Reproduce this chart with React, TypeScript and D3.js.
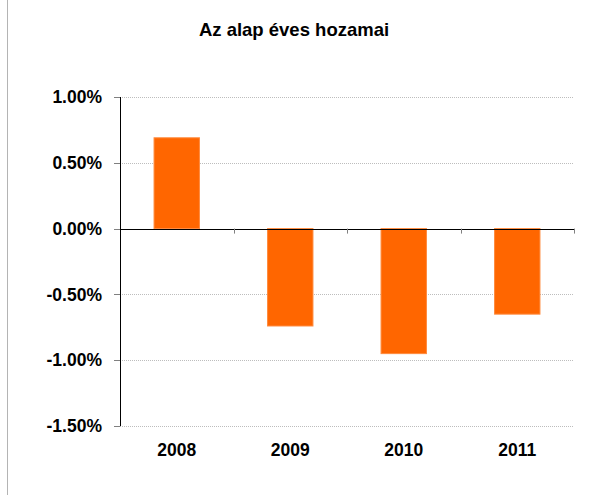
import React from "react";
import * as d3 from "d3";

const categories = ["2008", "2009", "2010", "2011"];
const returns = [0.0069, -0.0074, -0.0095, -0.0065];
const yTicks = [0.01, 0.005, 0, -0.005, -0.01, -0.015];
const title = "Az alap éves hozamai";

const width = 601;
const height = 495;
const margin = { top: 97, right: 27, bottom: 69, left: 120 };
const font = "'Liberation Sans', Arial, sans-serif";

// plain hyphen for negatives, like the original
const fmt = d3
  .formatLocale({ decimal: ".", thousands: ",", grouping: [3], currency: ["", ""], minus: "-" })
  .format(".2%");

const App = () => {
  const x = d3
    .scaleBand()
    .domain(categories)
    .range([margin.left, width - margin.right])
    .paddingInner(0.6)
    .paddingOuter(0.3);
  const y = d3
    .scaleLinear()
    .domain([-0.015, 0.01])
    .range([height - margin.bottom, margin.top]);
  const step = x.step();
  const bounds = d3.range(categories.length + 1).map(i => margin.left + i * step);

  return (
    <div style={{ position: "fixed", left: 0, top: 0 }}>
      <svg width={width} height={height} style={{ display: "block", background: "#fff" }}>
        <line x1={7.5} x2={7.5} y1={0} y2={height} stroke="#b4b4b4" strokeWidth={1} />
        <text
          x={294}
          y={36}
          textAnchor="middle"
          fontFamily={font}
          fontWeight="bold"
          fontSize={18.5}
        >
          {title}
        </text>

        {yTicks.map(t => (
          <g key={t}>
            {t !== 0 && (
              <line
                x1={margin.left}
                x2={width - margin.right}
                y1={Math.round(y(t)) + 0.5}
                y2={Math.round(y(t)) + 0.5}
                stroke="#bdbdbd"
                strokeDasharray="1,1"
              />
            )}
            <line
              x1={margin.left - 6}
              x2={margin.left}
              y1={Math.round(y(t)) + 0.5}
              y2={Math.round(y(t)) + 0.5}
              stroke="#808080"
            />
            <text
              x={102}
              y={y(t)}
              dy="0.35em"
              textAnchor="end"
              fontFamily={font}
              fontWeight="bold"
              fontSize={17.5}
            >
              {fmt(t)}
            </text>
          </g>
        ))}

        {categories.map((c, i) => {
          const v = returns[i];
          const y0 = y(0);
          const y1 = y(v);
          return (
            <rect
              key={c}
              x={x(c)}
              y={Math.min(y0, y1)}
              width={x.bandwidth()}
              height={Math.abs(y1 - y0)}
              fill="#ff6600"
              stroke="#ff8a3d"
              strokeWidth={1}
            />
          );
        })}

        <line
          x1={margin.left + 0.5}
          x2={margin.left + 0.5}
          y1={margin.top}
          y2={height - margin.bottom}
          stroke="#000"
        />
        <line
          x1={margin.left}
          x2={width - margin.right}
          y1={Math.round(y(0)) + 0.5}
          y2={Math.round(y(0)) + 0.5}
          stroke="#000"
        />
        {bounds.slice(1).map(b => (
          <line
            key={b}
            x1={Math.round(b) + 0.5}
            x2={Math.round(b) + 0.5}
            y1={y(0)}
            y2={y(0) + 5}
            stroke="#808080"
          />
        ))}

        {categories.map(c => (
          <text
            key={c}
            x={(x(c) ?? 0) + x.bandwidth() / 2}
            y={450}
            dy="0.35em"
            textAnchor="middle"
            fontFamily={font}
            fontWeight="bold"
            fontSize={17.5}
          >
            {c}
          </text>
        ))}
      </svg>
    </div>
  );
};

export default App;
